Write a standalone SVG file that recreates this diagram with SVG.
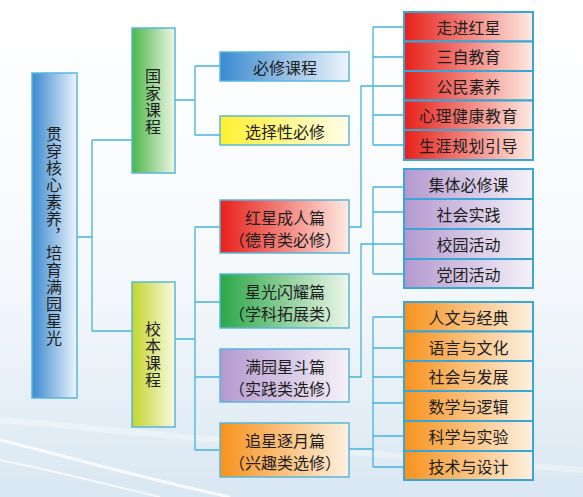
<svg xmlns="http://www.w3.org/2000/svg" width="583" height="497" viewBox="0 0 583 497">
<defs>
<linearGradient id="bg" x1="0" y1="0" x2="0" y2="1">
<stop offset="0" stop-color="#ffffff"/>
<stop offset="0.55" stop-color="#f6f9fc"/>
<stop offset="1" stop-color="#d9e7f2"/>
</linearGradient>
<linearGradient id="gBlue" x1="0" y1="0" x2="1" y2="0"><stop offset="0" stop-color="#3a8ad0"/><stop offset="1" stop-color="#eef4fb"/></linearGradient>
<linearGradient id="gGreen1" x1="0" y1="0" x2="1" y2="0"><stop offset="0" stop-color="#4cb648"/><stop offset="1" stop-color="#eef7e6"/></linearGradient>
<linearGradient id="gLime" x1="0" y1="0" x2="1" y2="0"><stop offset="0" stop-color="#c3d52c"/><stop offset="1" stop-color="#f8f9e2"/></linearGradient>
<linearGradient id="gYellow" x1="0" y1="0" x2="1" y2="0"><stop offset="0" stop-color="#fff02e"/><stop offset="1" stop-color="#fffdea"/></linearGradient>
<linearGradient id="gRed" x1="0" y1="0" x2="1" y2="0"><stop offset="0" stop-color="#e8201b"/><stop offset="1" stop-color="#fdebe2"/></linearGradient>
<linearGradient id="gGreen2" x1="0" y1="0" x2="1" y2="0"><stop offset="0" stop-color="#2aa748"/><stop offset="1" stop-color="#eef6ea"/></linearGradient>
<linearGradient id="gPurple" x1="0" y1="0" x2="1" y2="0"><stop offset="0" stop-color="#b398cf"/><stop offset="1" stop-color="#f6f2f9"/></linearGradient>
<linearGradient id="gOrange" x1="0" y1="0" x2="1" y2="0"><stop offset="0" stop-color="#f7921c"/><stop offset="1" stop-color="#fdf1e2"/></linearGradient>
</defs>
<style>
.box{stroke:#58b6dc;stroke-width:1.5}
.item{stroke:#3ba5d6;stroke-width:2}
.t{font-family:"Noto Sans CJK SC","Noto Sans",sans-serif;font-size:16px;fill:#1e1e1e;text-anchor:middle;dominant-baseline:central}
.v{font-family:"Noto Sans CJK SC","Noto Sans",sans-serif;font-size:16px;fill:#1e1e1e;writing-mode:vertical-rl;text-anchor:start;letter-spacing:1px}
.c{fill:none;stroke:#45b3dc;stroke-width:1.3}
</style>
<rect x="0" y="0" width="583" height="497" fill="url(#bg)"/>
<path d="M0 440 C60 455 150 480 230 497" fill="none" stroke="#ffffff" stroke-width="3" opacity="0.8"/>
<path d="M0 460 C50 470 110 485 160 497" fill="none" stroke="#ffffff" stroke-width="2" opacity="0.7"/>
<path d="M0 420 C120 430 300 450 583 470" fill="none" stroke="#ffffff" stroke-width="6" opacity="0.35"/>

<g id="connectors" class="c">
<path d="M77 237 H92 M92 140 V331 M92 140 H132 M92 331 H132"/>
<path d="M175 100 H195 M195 66 V135 M195 66 H220 M195 135 H220"/>
<path d="M175 339 H195 M195 227 V450 M195 227 H220 M195 302 H220 M195 377 H220 M195 450 H220"/>
<path d="M349 227 H361 V86 H373 M373 27 V145 M373 27 H404 M373 57 H404 M373 86 H404 M373 115 H404 M373 145 H404"/>
<path d="M349 377 H361 V244 H373 M373 187 V274 M373 187 H404 M373 212 H404 M373 244 H404 M373 274 H404"/>
<path d="M349 449 H373 M373 317 V467 M373 317 H404 M373 348 H404 M373 377 H404 M373 403 H404 M373 436 H404 M373 467 H404"/>
</g>

<g id="root">
<rect class="box" x="32" y="73" width="45" height="325" fill="url(#gBlue)"/>
<text class="v" x="54" y="126">贯穿核心素养，培育满园星光</text>
</g>

<g id="guojia">
<rect class="box" x="132" y="28" width="43" height="145" fill="url(#gGreen1)"/>
<text class="v" x="153" y="68">国家课程</text>
</g>
<g id="xiaoben">
<rect class="box" x="132" y="282" width="43" height="145" fill="url(#gLime)"/>
<text class="v" x="153" y="321">校本课程</text>
</g>

<g id="bixiu">
<rect class="box" x="220" y="52" width="129" height="29" fill="url(#gBlue)"/>
<text class="t" x="285" y="66.5">必修课程</text>
</g>
<g id="xuanze">
<rect class="box" x="220" y="116" width="129" height="29" fill="url(#gYellow)"/>
<text class="t" x="285" y="130.5">选择性必修</text>
</g>
<g id="hongxing">
<rect class="box" x="220" y="200" width="129" height="53" fill="url(#gRed)"/>
<text class="t" x="285" y="217">红星成人篇</text>
<text class="t" x="285" y="239">（德育类必修）</text>
</g>
<g id="xingguang">
<rect class="box" x="220" y="274" width="129" height="54" fill="url(#gGreen2)"/>
<text class="t" x="285" y="291">星光闪耀篇</text>
<text class="t" x="285" y="313">（学科拓展类）</text>
</g>
<g id="manyuan">
<rect class="box" x="220" y="349" width="129" height="53" fill="url(#gPurple)"/>
<text class="t" x="285" y="366">满园星斗篇</text>
<text class="t" x="285" y="388">（实践类选修）</text>
</g>
<g id="zhuixing">
<rect class="box" x="220" y="423" width="129" height="54" fill="url(#gOrange)"/>
<text class="t" x="285" y="440">追星逐月篇</text>
<text class="t" x="285" y="462">（兴趣类选修）</text>
</g>

<g id="red-items">
<rect class="item" x="404" y="12" width="129" height="29.5" fill="url(#gRed)"/>
<rect class="item" x="404" y="41.5" width="129" height="29.5" fill="url(#gRed)"/>
<rect class="item" x="404" y="71" width="129" height="29.5" fill="url(#gRed)"/>
<rect class="item" x="404" y="100.5" width="129" height="29.5" fill="url(#gRed)"/>
<rect class="item" x="404" y="130" width="129" height="30" fill="url(#gRed)"/>
<text class="t" x="468.5" y="26.5">走进红星</text>
<text class="t" x="468.5" y="56">三自教育</text>
<text class="t" x="468.5" y="85.5">公民素养</text>
<text class="t" x="468.5" y="115" letter-spacing="0.5">心理健康教育</text>
<text class="t" x="468.5" y="145" letter-spacing="0.5">生涯规划引导</text>
</g>

<g id="purple-items">
<rect class="item" x="404" y="169" width="129" height="30" fill="url(#gPurple)"/>
<rect class="item" x="404" y="199" width="129" height="30" fill="url(#gPurple)"/>
<rect class="item" x="404" y="229" width="129" height="30" fill="url(#gPurple)"/>
<rect class="item" x="404" y="259" width="129" height="29" fill="url(#gPurple)"/>
<text class="t" x="468.5" y="184">集体必修课</text>
<text class="t" x="468.5" y="214">社会实践</text>
<text class="t" x="468.5" y="244">校园活动</text>
<text class="t" x="468.5" y="273.5">党团活动</text>
</g>

<g id="orange-items">
<rect class="item" x="404" y="302" width="129" height="29.5" fill="url(#gOrange)"/>
<rect class="item" x="404" y="331.5" width="129" height="29.5" fill="url(#gOrange)"/>
<rect class="item" x="404" y="361" width="129" height="30" fill="url(#gOrange)"/>
<rect class="item" x="404" y="391" width="129" height="30" fill="url(#gOrange)"/>
<rect class="item" x="404" y="421" width="129" height="30" fill="url(#gOrange)"/>
<rect class="item" x="404" y="451" width="129" height="29" fill="url(#gOrange)"/>
<text class="t" x="468.5" y="317">人文与经典</text>
<text class="t" x="468.5" y="346.5">语言与文化</text>
<text class="t" x="468.5" y="376">社会与发展</text>
<text class="t" x="468.5" y="406">数学与逻辑</text>
<text class="t" x="468.5" y="436">科学与实验</text>
<text class="t" x="468.5" y="465.5">技术与设计</text>
</g>
</svg>
